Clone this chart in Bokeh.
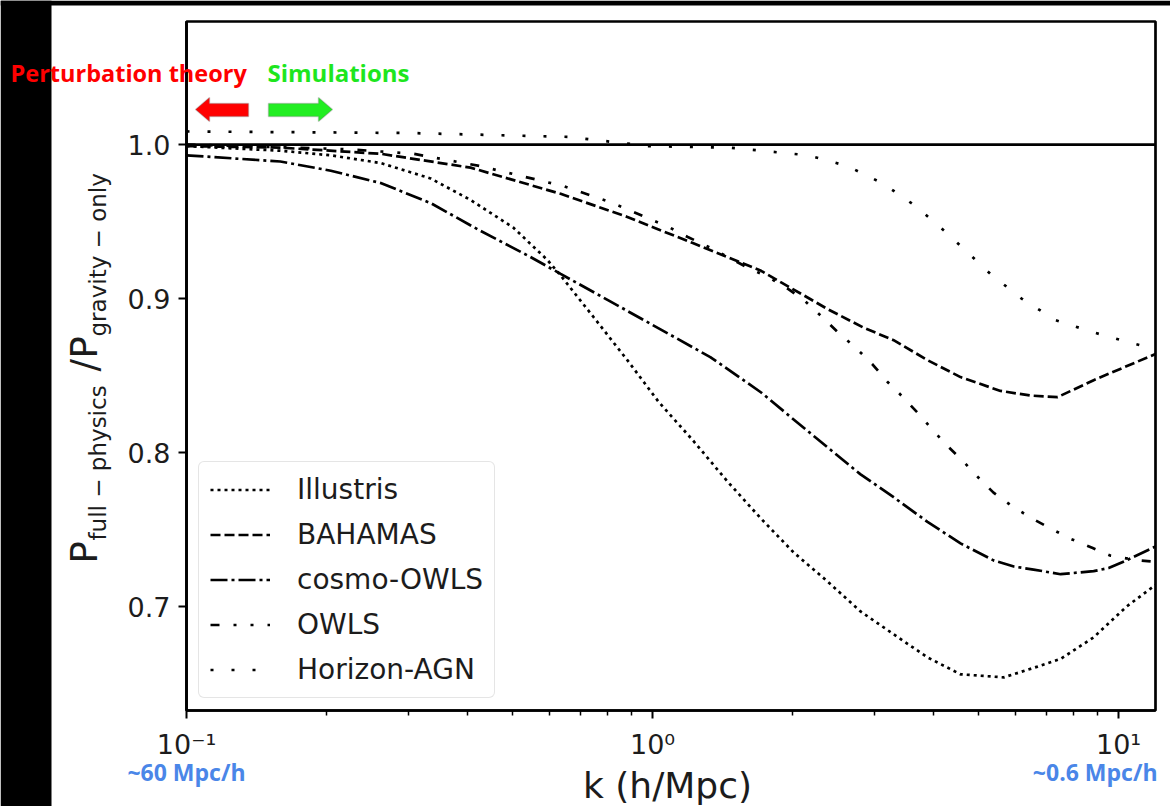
import math
from bokeh.plotting import figure
from bokeh.core.properties import value
from bokeh.models import (Range1d, FixedTicker, NumeralTickFormatter, CustomJSTickFormatter,
                          Span, Legend, LegendItem, PolyAnnotation)
from bokeh.embed import file_html
from bokeh.resources import INLINE

# Ratio of the matter power spectrum with full baryonic physics to the
# gravity-only one, as a function of wavenumber k (h/Mpc).
k_illustris = [0.1, 0.159, 0.204, 0.261, 0.334, 0.407, 0.503, 0.595, 0.635, 0.747, 0.883,
               1.03, 1.22, 1.45, 1.71, 2.01, 2.38, 2.79, 3.29, 3.89, 4.58, 5.67, 6.70, 7.51,
               8.84, 10.4, 12.0]
r_illustris = [0.999, 0.996, 0.993, 0.988, 0.978, 0.964, 0.946, 0.925, 0.915, 0.888, 0.860,
               0.833, 0.808, 0.781, 0.757, 0.735, 0.716, 0.697, 0.682, 0.667, 0.656, 0.654,
               0.661, 0.666, 0.680, 0.700, 0.714]

k_bahamas = [0.1, 0.159, 0.261, 0.407, 0.635, 0.883, 1.22, 1.71, 2.38, 2.84, 3.29, 3.89,
             4.58, 5.58, 6.48, 7.40, 8.84, 12.0]
r_bahamas = [0.999, 0.998, 0.994, 0.985, 0.968, 0.953, 0.936, 0.918, 0.893, 0.881, 0.873,
             0.860, 0.849, 0.840, 0.837, 0.836, 0.847, 0.864]

k_cosmo_owls = [0.1, 0.159, 0.204, 0.261, 0.334, 0.427, 0.547, 0.635, 0.813, 1.04, 1.33,
                1.71, 1.98, 2.79, 3.29, 3.89, 4.58, 5.39, 5.96, 6.57, 7.51, 8.84, 9.52,
                10.4, 12.0]
r_cosmo_owls = [0.993, 0.989, 0.983, 0.975, 0.962, 0.944, 0.927, 0.916, 0.898, 0.880, 0.862,
                0.839, 0.823, 0.786, 0.771, 0.755, 0.741, 0.730, 0.726, 0.724, 0.721, 0.723,
                0.725, 0.730, 0.739]

k_owls = [0.1, 0.221, 0.307, 0.427, 0.644, 0.805, 0.883, 0.98, 1.09, 1.19, 1.33, 1.45, 1.60,
          1.77, 1.96, 2.13, 2.33, 2.52, 2.73, 2.97, 3.19, 3.42, 3.70, 4.01, 4.27, 4.65, 5.03,
          5.39, 5.92, 6.54, 7.11, 7.89, 8.80, 9.62, 11.0, 12.0]
r_owls = [1.000, 0.997, 0.994, 0.986, 0.973, 0.963, 0.958, 0.952, 0.946, 0.940, 0.933, 0.927,
          0.920, 0.914, 0.906, 0.898, 0.887, 0.877, 0.868, 0.857, 0.846, 0.837, 0.826, 0.814,
          0.805, 0.794, 0.783, 0.774, 0.765, 0.757, 0.751, 0.744, 0.738, 0.733, 0.730, 0.729]

k_horizon = [0.1, 0.3, 0.66, 0.98, 1.46, 2.16, 2.62, 3.13, 3.67, 4.30, 5.31, 6.19, 7.32, 8.84,
             10.7, 12.0]
r_horizon = [1.0085, 1.0075, 1.005, 0.999, 0.998, 0.993, 0.986, 0.9745, 0.960, 0.942, 0.916,
             0.900, 0.886, 0.878, 0.871, 0.867]

series_names = ["Illustris", "BAHAMAS", "cosmo-OWLS", "OWLS", "Horizon-AGN"]
y_ticks = [0.7, 0.8, 0.9, 1.0]
x_major_ticks = [0.1, 1.0, 10.0]
x_minor_ticks = [0.2, 0.3, 0.4, 0.5, 0.6, 0.7, 0.8, 0.9, 2, 3, 4, 5, 6, 7, 8, 9]

W, H = 1170, 806
FONT = "DejaVu Sans"
INK = "#1c1c1c"

# ---------------------------------------------------------------- main plot
p = figure(width=W, height=H, x_axis_type="log",
           x_range=Range1d(0.1, 12.0), y_range=Range1d(0.6325, 1.0799),
           output_backend="svg", toolbar_location=None,
           min_border_left=186, min_border_right=15, min_border_top=21, min_border_bottom=96)
p.background_fill_color = "white"
p.border_fill_color = "white"
p.outline_line_color = "black"
p.outline_line_width = 2.7
p.grid.visible = False

for ax in (p.xaxis[0], p.yaxis[0]):
    ax.axis_line_color = "black"
    ax.axis_line_width = 2.7
    ax.major_tick_line_color = "black"
    ax.major_tick_line_width = 2
    ax.major_tick_out = 8
    ax.major_tick_in = 0
    ax.major_label_text_font = FONT
    ax.major_label_text_font_size = "27px"
    ax.major_label_text_color = INK

p.yaxis.ticker = FixedTicker(ticks=y_ticks)
p.yaxis.formatter = NumeralTickFormatter(format="0.0")
p.yaxis.minor_tick_line_color = None
p.yaxis.major_label_standoff = 8

p.xaxis.ticker = FixedTicker(ticks=x_major_ticks, minor_ticks=x_minor_ticks)
p.xaxis.minor_tick_line_color = "black"
p.xaxis.minor_tick_line_width = 1.5
p.xaxis.minor_tick_out = 5
p.xaxis.minor_tick_in = 0
p.xaxis.major_label_standoff = 10
p.xaxis.formatter = CustomJSTickFormatter(code="""
    const sup = {"-": "\u207b", "0": "\u2070", "1": "\u00b9", "2": "\u00b2", "3": "\u00b3"};
    const e = Math.round(Math.log10(tick));
    return "10" + String(e).split("").map((c) => sup[c]).join("");
""")

styles = [
    (k_illustris, r_illustris, "3 4"),
    (k_bahamas, r_bahamas, "10 4"),
    (k_cosmo_owls, r_cosmo_owls, "17 4 3 4"),
    (k_owls, r_owls, "9 14 3 14 3 14"),
    (k_horizon, r_horizon, "3 18"),
]
renderers = []
for (ks, rs, dash) in styles:
    renderers.append(p.line(ks, rs, line_color="black", line_width=2.7, line_dash=dash))

p.add_layout(Span(location=1.0, dimension="width", line_color="black", line_width=2.7))

legend = Legend(items=[LegendItem(label=n, renderers=[r]) for n, r in zip(series_names, renderers)],
                location=(12, 12), margin=0, padding=11, spacing=12,
                glyph_width=60, glyph_height=31, label_height=31, label_standoff=27,
                label_text_font=FONT, label_text_font_size="28px", label_text_color=INK,
                border_line_color="#cccccc", border_line_width=1.5, border_radius=6,
                background_fill_color="white", background_fill_alpha=0.85)
p.add_layout(legend)

# block arrows marking the two regimes
p.add_layout(PolyAnnotation(xs=[195, 209, 209, 248, 248, 209, 209],
                            ys=[109, 97, 103, 103, 116, 116, 121],
                            xs_units="canvas", ys_units="canvas",
                            fill_color="#ff0000", fill_alpha=1,
                            line_color="#6e6e6e", line_width=1.5))
p.add_layout(PolyAnnotation(xs=[268, 318, 318, 332, 318, 318, 268],
                            ys=[103, 103, 97, 109, 121, 116, 116],
                            xs_units="canvas", ys_units="canvas",
                            fill_color="#22ee22", fill_alpha=1,
                            line_color="#6e6e6e", line_width=1.5))

# ---------------------------------- page-wide text layer laid over the plot
ov = figure(width=W, height=H, x_range=Range1d(0, W), y_range=Range1d(0, H),
            x_axis_type=None, y_axis_type=None, min_border=0,
            output_backend="svg", toolbar_location=None,
            styles={"position": "absolute", "left": "0px", "top": "0px",
                    "pointer-events": "none"})
ov.background_fill_color = None
ov.border_fill_color = None
ov.outline_line_color = None


def yc(y):
    """page y (from the top) to layer coordinates"""
    return H - y


# black page edges
ov.quad(left=[0, 0], right=[51, W], top=[yc(0), yc(0)], bottom=[yc(H), yc(5)],
        fill_color="black", line_color=None)

# the svg text layer sits its glyphs a little below the requested baseline;
# nudge each text back by this fraction of its size
LIFT = 0.42


def txt(s, x, y, size, color, font=FONT, style="normal", angle=0.0, align="left"):
    # x, y: baseline anchor in page pixels (y from the top)
    dx = -LIFT * size * math.sin(angle)
    dy = -LIFT * size * math.cos(angle)
    ov.text(x=[x + dx], y=[yc(y + dy)], text=[s], text_font=value(font),
            text_font_size=value(f"{size}px"), text_font_style=style, text_color=color,
            angle=angle, text_align=align, text_baseline="alphabetic")


# axis titles
txt("k (h/Mpc)", 667, 800, 36, INK, align="center")
up = math.pi / 2
txt("P", 100, 563, 37, INK, angle=up)
txt("full \u2212 physics", 107, 540, 23, INK, angle=up)
txt("/", 100, 371, 37, INK, angle=up)
txt("P", 100, 358, 37, INK, angle=up)
txt("gravity \u2212 only", 107, 336, 23, INK, angle=up)

# regime labels
txt("Perturbation theory", 10, 82, 23.5, "#ff0000", font="Open Sans", style="bold")
txt("Simulations", 267, 82, 24, "#1ee61e", font="Open Sans", style="bold")

# scale hints under the k axis
txt("~60 Mpc/h", 186, 781, 23, "#4a86e8", font="Open Sans", style="bold", align="center")
txt("~0.6 Mpc/h", 1157, 781, 23, "#4a86e8", font="Open Sans", style="bold", align="right")

open("out.html", "w", encoding="utf-8").write(file_html([p, ov], INLINE))
